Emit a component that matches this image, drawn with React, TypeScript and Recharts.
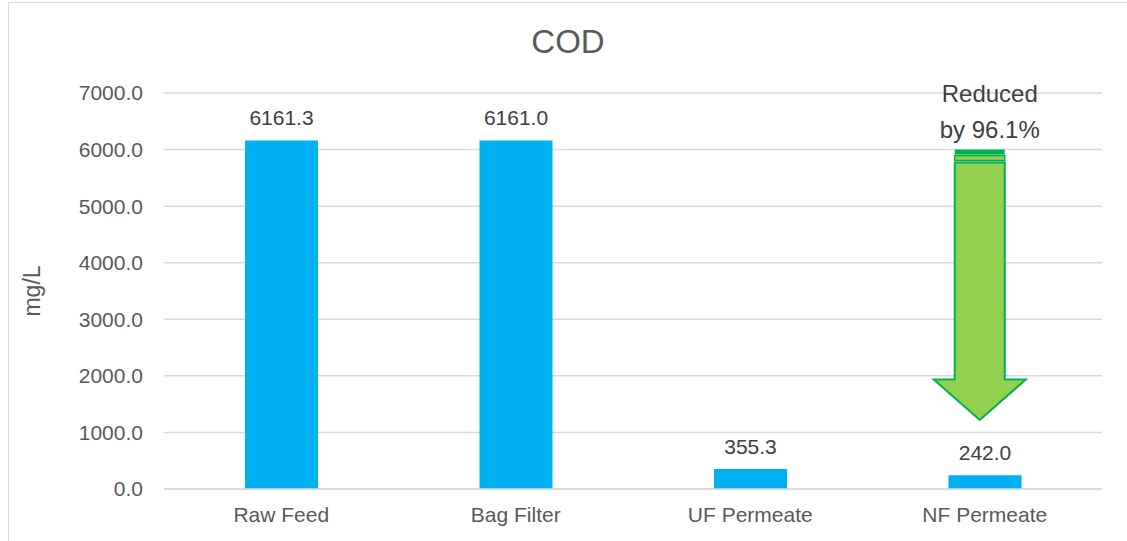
import { BarChart, Bar, XAxis, YAxis, CartesianGrid, LabelList, ReferenceArea } from 'recharts';

const categories = ['Raw Feed', 'Bag Filter', 'UF Permeate', 'NF Permeate'];
const codValues = [6161.3, 6161.0, 355.3, 242.0];
const yTicks = [0, 1000, 2000, 3000, 4000, 5000, 6000, 7000];

// arrow annotation on the NF Permeate column (mg/L)
const arrowCategory = 'NF Permeate';
const arrowTop = 6000;
const arrowHeadBase = 1935;
const arrowTip = 1220;
const arrowText = ['Reduced', 'by 96.1%'];

const data = categories.map((name, i) => ({ name, cod: codValues[i] }));

const FONT = '"Liberation Sans", Arial, sans-serif';

const ArrowShape = (props: any) => {
    const { x, y, width, height } = props;
    if (x == null || y == null) return null;
    const cx = x + width / 2 - 5;
    const shaftHalf = 25;
    const headHalf = 46;
    const headY = y + (height * (arrowTop - arrowHeadBase)) / (arrowTop - arrowTip);
    const bottom = y + height;
    const body = [
        [cx - shaftHalf, y + 13],
        [cx + shaftHalf, y + 13],
        [cx + shaftHalf, headY],
        [cx + headHalf, headY],
        [cx, bottom],
        [cx - headHalf, headY],
        [cx - shaftHalf, headY],
    ]
        .map((p) => p.join(','))
        .join(' ');
    return (
        <g>
            <text x={cx + 10} y={y - 48} textAnchor="middle" fontSize={24} fill="#404040" fontFamily={FONT}>
                {arrowText[0]}
            </text>
            <text x={cx + 10} y={y - 12} textAnchor="middle" fontSize={24} fill="#404040" fontFamily={FONT}>
                {arrowText[1]}
            </text>
            <rect x={cx - shaftHalf} y={y} width={shaftHalf * 2} height={5} fill="#00b050" />
            <rect x={cx - shaftHalf} y={y + 6} width={shaftHalf * 2} height={5} fill="#92d050" stroke="#00b050" strokeWidth={1.5} />
            <polygon points={body} fill="#92d050" stroke="#00b050" strokeWidth={2} />
        </g>
    );
};

export default function App() {
    return (
        <div style={{ position: 'absolute', left: 0, top: 0, width: 1127, height: 541, background: '#fff', fontFamily: FONT }}>
            <div
                style={{
                    position: 'absolute',
                    left: 8,
                    top: 2,
                    width: 1130,
                    height: 560,
                    border: '1px solid #d9d9d9',
                    boxSizing: 'border-box',
                }}
            />
            <div
                style={{
                    position: 'absolute',
                    left: 0,
                    top: 25,
                    width: 1136,
                    textAlign: 'center',
                    fontSize: 33,
                    lineHeight: '34px',
                    color: '#595959',
                }}
            >
                COD
            </div>
            <div
                style={{
                    position: 'absolute',
                    left: 32,
                    top: 291,
                    transform: 'translate(-50%, -50%) rotate(-90deg)',
                    fontSize: 23,
                    lineHeight: '23px',
                    color: '#595959',
                    whiteSpace: 'nowrap',
                }}
            >
                mg/L
            </div>
            <BarChart
                width={1127}
                height={541}
                data={data}
                margin={{ top: 93, right: 25, bottom: 22, left: 0 }}
                style={{ position: 'absolute', left: 0, top: 0 }}
            >
                <CartesianGrid vertical={false} stroke="#d9d9d9" strokeWidth={1.5} />
                <XAxis
                    dataKey="name"
                    height={30}
                    tickLine={false}
                    axisLine={{ stroke: '#d9d9d9', strokeWidth: 1.5 }}
                    tickSize={0}
                    tickMargin={18}
                    tick={{ fill: '#595959', fontSize: 21, fontFamily: FONT }}
                    interval={0}
                />
                <YAxis
                    width={164}
                    domain={[0, 7000]}
                    ticks={yTicks}
                    axisLine={false}
                    tickLine={false}
                    tickSize={0}
                    tickMargin={21}
                    tickFormatter={(v: number) => v.toFixed(1)}
                    tick={{ fill: '#595959', fontSize: 21, fontFamily: FONT }}
                />
                <Bar dataKey="cod" fill="#00b0f0" barSize={73} isAnimationActive={false}>
                    <LabelList
                        dataKey="cod"
                        position="top"
                        offset={15}
                        formatter={(v: any) => Number(v).toFixed(1)}
                        style={{ fill: '#404040', fontSize: 21, fontFamily: FONT }}
                    />
                </Bar>
                <ReferenceArea
                    x1={arrowCategory}
                    x2={arrowCategory}
                    y1={arrowTip}
                    y2={arrowTop}
                    ifOverflow="visible"
                    shape={<ArrowShape />}
                />
            </BarChart>
        </div>
    );
}
